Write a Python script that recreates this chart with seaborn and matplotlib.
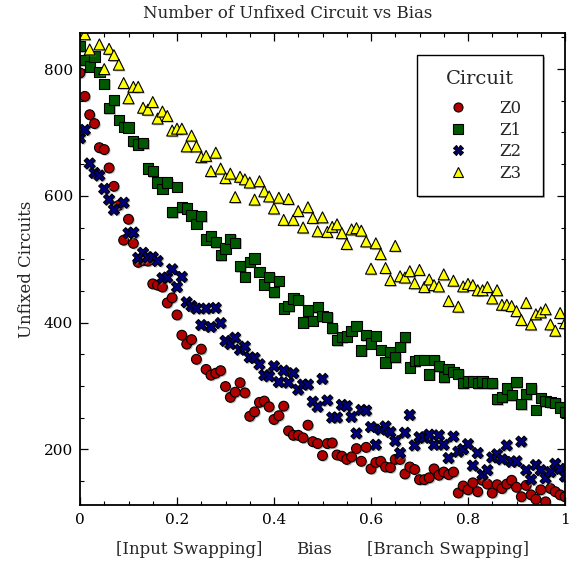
import numpy as np
import pandas as pd
import matplotlib
matplotlib.use("Agg")
import matplotlib.pyplot as plt
import matplotlib.patheffects as pe
from matplotlib.patches import Rectangle
from matplotlib.ticker import MultipleLocator, FuncFormatter
import seaborn as sns

# Bias sweep: 0 .. 1 in steps of 0.01
bias = [round(i / 100, 2) for i in range(101)]

circuits = ["Z0", "Z1", "Z2", "Z3"]

z0 = [794, 757, 728, 714, 676, 673, 644, 615, 585, 530,
      563, 525, 495, 498, 497, 461, 459, 456, 431, 439,
      412, 380, 366, 373, 342, 358, 326, 317, 320, 324,
      299, 282, 290, 305, 289, 252, 259, 274, 276, 267,
      247, 253, 268, 229, 222, 222, 218, 238, 212, 209,
      190, 209, 210, 191, 189, 184, 188, 201, 181, 203,
      169, 179, 181, 172, 171, 184, 184, 161, 172, 168,
      152, 152, 155, 169, 159, 164, 160, 164, 131, 142,
      136, 147, 133, 151, 145, 131, 144, 138, 145, 151,
      140, 125, 143, 128, 121, 136, 117, 138, 133, 128,
      125]

z1 = [836, 814, 804, 820, 796, 777, 738, 751, 720, 709,
      708, 686, 681, 683, 643, 639, 621, 611, 621, 574,
      614, 582, 580, 569, 556, 568, 531, 537, 527, 506,
      517, 532, 526, 489, 472, 496, 501, 480, 460, 472,
      448, 466, 422, 426, 438, 436, 400, 419, 403, 424,
      410, 409, 391, 372, 377, 378, 387, 395, 356, 380,
      367, 379, 357, 337, 353, 345, 362, 377, 329, 339,
      341, 341, 318, 341, 331, 314, 327, 322, 319, 304,
      307, 307, 304, 307, 304, 304, 279, 282, 296, 285,
      306, 271, 287, 296, 262, 281, 276, 274, 273, 266,
      259]

z2 = [691, 704, 651, 636, 632, 611, 594, 578, np.nan, 589,
      541, 542, 502, 510, 503, 503, 497, 470, 471, 484,
      456, 472, 432, 426, 422, 396, 422, 393, 423, 399,
      371, 366, 376, 357, 362, 345, 344, 334, 317, 315,
      331, 306, 324, 305, 320, 294, 302, 302, 275, 267,
      311, 277, 250, 250, 270, 268, 251, 225, 262, 261,
      235, 207, 231, 236, 227, 213, 194, 226, 254, 206,
      219, 218, 223, 207, 222, 207, 186, 220, 196, 200,
      208, 174, 194, 160, 167, 187, 192, 184, 206, 180,
      181, 212, 167, 152, 175, 167, 154, 164, 177, 169,
      157]

z3 = [np.nan, 855, 831, np.nan, 839, 800, 832, 822, 807, 778,
      754, 772, 772, 739, 736, 748, 722, 733, 726, 703,
      706, 706, 678, 695, 678, 661, 663, 639, 668, 643,
      628, 635, 598, 630, 626, 621, 594, 623, 607, 599,
      580, 597, 562, 595, 562, 576, 550, 582, 565, 544,
      566, 543, 551, 555, 541, 524, 547, 549, 545, 528,
      485, 525, 508, 486, 467, 521, 473, 471, 481, 462,
      483, 456, 468, 459, 457, 476, 434, 466, 425, 457,
      461, 459, 451, 451, 456, 438, 451, 428, 428, 426,
      418, 404, 431, 397, 413, 416, 421, 397, 387, 415,
      399]

x_ticks = [0, 0.2, 0.4, 0.6, 0.8, 1]
y_ticks = [200, 400, 600, 800]

df = pd.concat(
    [pd.DataFrame({"Bias": bias, "Unfixed": vals, "Circuit": name})
     for name, vals in zip(circuits, [z0, z1, z2, z3])],
    ignore_index=True,
).dropna()

palette = {"Z0": "#b00000", "Z1": "#005800", "Z2": "#00007e", "Z3": "#ffff00"}
markers = {"Z0": "o", "Z1": "s", "Z2": "X", "Z3": "^"}
sizes = {"Z0": 50, "Z1": 54, "Z2": 64, "Z3": 62}

sns.set_theme(style="ticks")
plt.rcParams["font.family"] = ["DejaVu Serif"]
plt.rcParams["mathtext.fontset"] = "dejavuserif"

W, H = 579, 563
fig = plt.figure(figsize=(W / 100, H / 100), dpi=100)
ax = fig.add_axes([80 / W, 1 - 505 / H, 485 / W, 472 / H])


def ax_xy(px, py):
    """Pixel position inside the figure -> axes fraction."""
    return (px - 80) / 485, (505 - py) / 472


shadow = [pe.SimplePatchShadow(offset=(1.0, -1.0), shadow_rgbFace="0.55", alpha=0.55),
          pe.Normal()]

for name in circuits:
    sub = df[df["Circuit"] == name]
    sns.scatterplot(data=sub, x="Bias", y="Unfixed", ax=ax,
                    color=palette[name], marker=markers[name], s=sizes[name],
                    edgecolor="black", linewidth=0.8, legend=False)
for coll in ax.collections:
    coll.set_path_effects(shadow)

ax.set_xlim(0, 1)
ax.set_ylim(112, 857)
ax.set_xticks(x_ticks)
ax.set_yticks(y_ticks)
ax.xaxis.set_minor_locator(MultipleLocator(0.05))
ax.yaxis.set_minor_locator(MultipleLocator(50))
ax.xaxis.set_major_formatter(FuncFormatter(lambda v, p: f"{v:g}"))
ax.tick_params(which="both", direction="in", top=True, right=True,
               colors="black", labelsize=11)
ax.tick_params(which="major", length=6, width=0.9)
ax.tick_params(which="minor", length=3.2, width=0.8)
ax.tick_params(axis="x", which="major", pad=6)
ax.tick_params(axis="y", which="major", pad=5)
for side in ["left", "right", "top", "bottom"]:
    ax.spines[side].set_visible(True)
    ax.spines[side].set_color("black")
    ax.spines[side].set_linewidth(1.3)

ax.set_xlabel("")
ax.set_ylabel("Unfixed Circuits", fontsize=12, labelpad=6)

fig.suptitle("Number of Unfixed Circuit vs Bias", x=0.497, y=1 - 13 / H,
             va="center", fontsize=12)
fig.text(189.5 / W, 1 - 549 / H, "[Input Swapping]", ha="center", va="center", fontsize=12)
fig.text(314 / W, 1 - 549 / H, "Bias", ha="center", va="center", fontsize=12)
fig.text(448 / W, 1 - 549 / H, "[Branch Swapping]", ha="center", va="center", fontsize=12)

# Legend: framed box, title and entries
x0, y0 = ax_xy(417, 196)
x1, y1 = ax_xy(543, 55)
box = Rectangle((x0, y0), x1 - x0, y1 - y0, transform=ax.transAxes,
                facecolor="white", edgecolor="black", linewidth=1.0, zorder=4,
                path_effects=[pe.SimplePatchShadow(offset=(1.5, -1.5),
                                                   shadow_rgbFace="0.5", alpha=0.6),
                              pe.Normal()])
ax.add_patch(box)
tx, ty = ax_xy(480, 79)
ax.text(tx, ty, "Circuit", transform=ax.transAxes, ha="center", va="center",
        fontsize=14, zorder=6)

handles = [plt.Line2D([], [], linestyle="none", marker=markers[n], markersize=6.5,
                      markerfacecolor=palette[n], markeredgecolor="black",
                      markeredgewidth=0.8) for n in circuits]
lx, ly = ax_xy(437, 141)
leg = ax.legend(handles, circuits, loc="center left", bbox_to_anchor=(lx, ly),
                fontsize=12, frameon=False, borderpad=0, borderaxespad=0,
                handlelength=2.52, handletextpad=1.2, labelspacing=0.27)
leg.set_zorder(6)

fig.savefig("out.png", dpi=100)
